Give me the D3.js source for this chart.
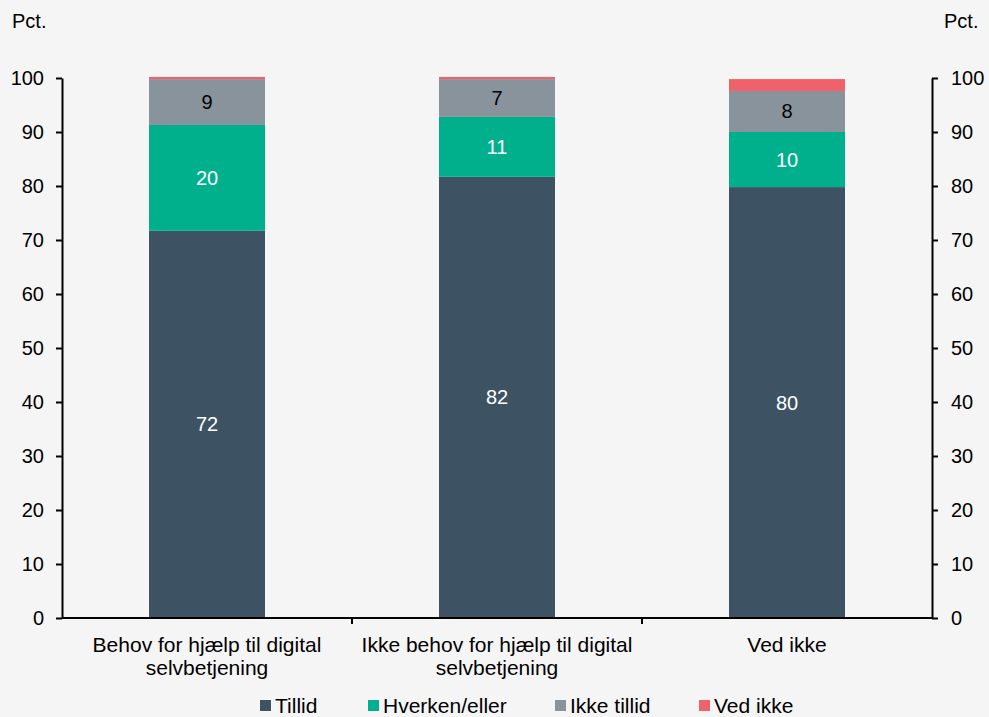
<!DOCTYPE html>
<html>
<head>
<meta charset="utf-8">
<script src="https://cdn.jsdelivr.net/npm/d3@7"></script>
<style>
body { margin: 0; background: #f5f5f5; }
svg { display: block; font-family: "Liberation Sans", Arial, sans-serif; }
</style>
</head>
<body>
<svg width="989" height="717"></svg>
<script>
var categories = [
    ["Behov for hjælp til digital", "selvbetjening"],
    ["Ikke behov for hjælp til digital", "selvbetjening"],
    ["Ved ikke"]
];
var seriesNames = ["Tillid", "Hverken/eller", "Ikke tillid", "Ved ikke"];
var tillid = [71.7, 81.7, 79.8];
var hverken = [19.6, 11.1, 10.2];
var ikkeTillid = [8.5, 7.0, 7.6];
var vedIkke = [0.4, 0.4, 2.2];
var yTicks = [0, 10, 20, 30, 40, 50, 60, 70, 80, 90, 100];

var colors = ["#3d5364", "#00b08c", "#89939b", "#f0626b"];
var labelColors = ["#fff", "#fff", "#000", null];

var svg = d3.select("svg");
var plotLeft = 62, plotRight = 932, plotTop = 78, plotBottom = 618;

var data = categories.map(function(c, i) {
    return { key: i, v0: tillid[i], v1: hverken[i], v2: ikkeTillid[i], v3: vedIkke[i] };
});

var stack = d3.stack().keys(["v0", "v1", "v2", "v3"]);
var series = stack(data);

var x = d3.scaleBand()
    .domain(d3.range(categories.length))
    .range([plotLeft, plotRight])
    .padding(0);

var y = d3.scaleLinear()
    .domain([0, 100])
    .range([plotBottom, plotTop]);

var barWidth = x.bandwidth() * 0.4;

// bars
var groups = svg.selectAll("g.series")
    .data(series)
    .enter()
    .append("g")
    .attr("class", "series")
    .attr("fill", function(d, i) { return colors[i]; });

groups.selectAll("rect")
    .data(function(d) { return d; })
    .enter()
    .append("rect")
    .attr("x", function(d, i) { return x(i) + (x.bandwidth() - barWidth) / 2; })
    .attr("y", function(d) { return y(d[1]); })
    .attr("width", barWidth)
    .attr("height", function(d) { return y(d[0]) - y(d[1]); });

// value labels
series.forEach(function(s, si) {
    if (!labelColors[si]) return;
    svg.append("g")
        .selectAll("text")
        .data(s)
        .enter()
        .append("text")
        .attr("x", function(d, i) { return x(i) + x.bandwidth() / 2; })
        .attr("y", function(d) { return (y(d[0]) + y(d[1])) / 2; })
        .attr("dy", "0.35em")
        .attr("text-anchor", "middle")
        .attr("font-size", 20)
        .attr("fill", labelColors[si])
        .text(function(d) { return d3.format(".0f")(d[1] - d[0]); });
});

// axes
var yLeft = d3.axisLeft(y).tickValues(yTicks).tickSize(6).tickPadding(12);
var yRight = d3.axisRight(y).tickValues(yTicks).tickSize(6).tickPadding(13);

function styleAxis(g) {
    g.select(".domain").attr("stroke", "#000").attr("stroke-width", 2);
    g.selectAll(".tick line").attr("stroke", "#000").attr("stroke-width", 2);
    g.selectAll(".tick text").attr("font-size", 20).attr("fill", "#000")
        .attr("font-family", "Liberation Sans, Arial, sans-serif");
}

svg.append("g")
    .attr("transform", "translate(" + plotLeft + ",0)")
    .call(yLeft.tickSizeOuter(0))
    .call(styleAxis);

svg.append("g")
    .attr("transform", "translate(" + plotRight + ",0)")
    .call(yRight.tickSizeOuter(0))
    .call(styleAxis);

// x axis line with ticks at category boundaries
svg.append("line")
    .attr("x1", plotLeft).attr("x2", plotRight)
    .attr("y1", plotBottom).attr("y2", plotBottom)
    .attr("stroke", "#000").attr("stroke-width", 2);

svg.selectAll("line.xtick")
    .data(d3.range(1, categories.length))
    .enter()
    .append("line")
    .attr("class", "xtick")
    .attr("x1", function(d) { return x(d); })
    .attr("x2", function(d) { return x(d); })
    .attr("y1", plotBottom)
    .attr("y2", plotBottom + 6)
    .attr("stroke", "#000").attr("stroke-width", 2);

// category labels
var catText = svg.selectAll("text.cat")
    .data(categories)
    .enter()
    .append("text")
    .attr("class", "cat")
    .attr("text-anchor", "middle")
    .attr("font-size", 21)
    .attr("fill", "#000");

catText.selectAll("tspan")
    .data(function(d, i) { return d.map(function(l) { return { l: l, i: i }; }); })
    .enter()
    .append("tspan")
    .attr("x", function(d) { return x(d.i) + x.bandwidth() / 2; })
    .attr("y", function(d, j) { return 652 + j * 23; })
    .text(function(d) { return d.l; });

// unit labels
svg.append("text").attr("x", 12).attr("y", 28).attr("font-size", 20).text("Pct.");
svg.append("text").attr("x", 944).attr("y", 28).attr("font-size", 20).text("Pct.");

// legend
var legendX = [260, 368, 555, 699];
var legend = svg.selectAll("g.legend")
    .data(seriesNames)
    .enter()
    .append("g")
    .attr("class", "legend")
    .attr("transform", function(d, i) { return "translate(" + legendX[i] + ",700)"; });

legend.append("rect")
    .attr("width", 11)
    .attr("height", 11)
    .attr("fill", function(d, i) { return colors[i]; });

legend.append("text")
    .attr("x", 15)
    .attr("y", 5.5)
    .attr("dy", "0.35em")
    .attr("font-size", 21)
    .text(function(d) { return d; });
</script>
</body>
</html>
